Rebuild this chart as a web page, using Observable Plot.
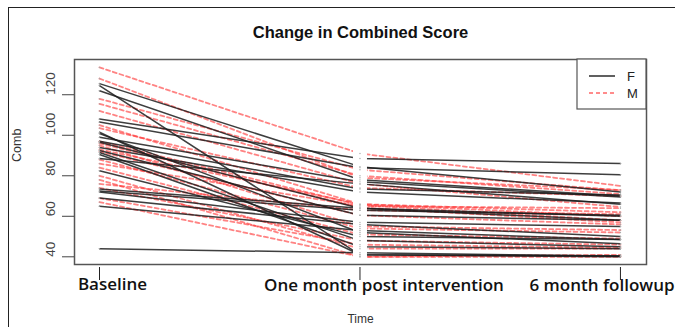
<!DOCTYPE html>
<html>
<head>
<meta charset="utf-8">
<script src="https://cdn.jsdelivr.net/npm/d3@7"></script>
<script src="https://cdn.jsdelivr.net/npm/@observablehq/plot@0.6"></script>
<style>
  html, body { margin: 0; padding: 0; background: #fff; }
  #wrap { position: relative; width: 675px; height: 327px; overflow: hidden; background: #fff; }
  #border { position: absolute; left: 8px; top: 7px; width: 700px; height: 340px; border-left: 1.5px solid #222; border-top: 1.5px solid #222; }
  #chart { position: absolute; left: 0; top: 0; }
  #legend { position: absolute; left: 0; top: 0; pointer-events: none; }
</style>
</head>
<body>
<div id="wrap">
  <div id="border"></div>
  <div id="chart"></div>
  <svg id="legend" width="675" height="327"></svg>
</div>
<script>
// ---- data ----
const timeLabels = ["Baseline", "One month post intervention", "6 month followup"];
const timeIndex = [1, 2, 3];
const yTicks = [40, 60, 80, 100, 120];
const sexLevels = ["F", "M"];

const fBase  = [125.5, 124.5, 122, 108, 106.5, 101.5, 100.8, 99, 97, 96.5, 94, 92.5, 91.5, 90.5, 88.5, 82.5, 73.5, 72.5, 72, 69, 65, 44];
const fMonth = [84.5, 41, 78, 88.5, 84, 41, 52, 77, 73.5, 64, 72, 60.5, 48, 45, 76, 50, 64, 63, 57, 56, 53, 42];
const f6     = [72, 40.5, 70, 86, 80.5, 40, 46.5, 69.5, 70.5, 60, 66.5, 58, 45, 44, 66, 48.6, 58, 60.5, 55, 50, 48.5, 40.3];

const mBase  = [133.5, 128, 118, 115.5, 112, 105, 103.5, 97, 96, 95, 93, 92, 88, 86, 84, 80, 78, 76, 74, 69, 67];
const mMonth = [91, 79, 83, 80, 76, 66, 74, 65.5, 64.3, 55, 66, 60.5, 54, 65, 51, 44, 40, 63, 48, 46, 40];
const m6     = [75, 73, 72.8, 71, 64.6, 62, 70, 58, 57, 53.2, 60, 56, 52, 64, 49, 44, 40, 61, 46, 44.5, 41];

function rows(sex, a, b, c) {
  const out = [];
  a.forEach((v, i) => {
    [a[i], b[i], c[i]].forEach((val, k) => out.push({id: sex + i, sex, t: timeIndex[k], v: val}));
  });
  return out;
}
const fRows = rows("F", fBase, fMonth, f6);
const mRows = rows("M", mBase, mMonth, m6);
const allRows = fRows.concat(mRows);

const chart = Plot.plot({
  width: 675,
  height: 327,
  marginLeft: 74,
  marginRight: 29,
  marginTop: 59,
  marginBottom: 63,
  style: {background: "transparent", fontFamily: "'Liberation Sans', Arial, sans-serif"},
  x: {domain: [0.904, 3.1], axis: null},
  y: {domain: [36.2, 137.4], axis: null},
  marks: [
    Plot.line(mRows, {x: "t", y: "v", z: "id", stroke: "#ff3030", strokeWidth: 1.8, strokeOpacity: 0.6, strokeDasharray: "4,3"}),
    Plot.line(fRows, {x: "t", y: "v", z: "id", stroke: "#1c1c1c", strokeWidth: 1.5, strokeOpacity: 0.85}),
    Plot.ruleX([2], {stroke: "white", strokeWidth: 14}),
    Plot.dot(allRows, {x: "t", y: "v", r: 0.7, fill: "#aaa", stroke: null}),
    Plot.frame({stroke: "#555", strokeWidth: 1.5}),
    Plot.axisY({ticks: yTicks, tickSize: 12, tickFormat: () => "", label: null, stroke: "#444"}),
    Plot.text(yTicks, {y: d => d, text: d => String(d), frameAnchor: "left", dx: -24, rotate: -90, fontSize: 13.5, fill: "#444"}),
    Plot.axisX({ticks: timeIndex, tickSize: 13, tickFormat: () => "", label: null, dy: 3, stroke: "#222"}),
    Plot.text([timeLabels[0]], {x: [timeIndex[0]], frameAnchor: "bottom", dy: 25, dx: 13, text: d => d, fontSize: 17, fontWeight: 600, fontFamily: "'Open Sans'", fill: "#111"}),
    Plot.text([timeLabels[1]], {x: [timeIndex[1]], frameAnchor: "bottom", dy: 26, dx: 24, text: d => d, fontSize: 17, fontWeight: 600, fontFamily: "'Open Sans'", fill: "#111"}),
    Plot.text([timeLabels[2]], {x: [timeIndex[2]], frameAnchor: "bottom", dy: 26, dx: -91, textAnchor: "start", text: d => d, fontSize: 17, fontWeight: 600, fontFamily: "'Open Sans'", fill: "#111"}),
    Plot.text(["Change in Combined Score"], {frameAnchor: "top", dy: -33, text: d => d, fontSize: 16.5, fontWeight: "bold", fill: "#111"}),
    Plot.text(["Time"], {frameAnchor: "bottom", dy: 58, text: d => d, fontSize: 12, fill: "#333"}),
    Plot.text(["Comb"], {frameAnchor: "left", dx: -58, rotate: -90, text: d => d, fontSize: 12.5, fill: "#333"})
  ]
});
document.getElementById("chart").appendChild(chart);

// legend (inside plot, top-right)
const lg = d3.select("#legend");
lg.append("rect").attr("x", 577).attr("y", 59).attr("width", 69).attr("height", 50)
  .attr("fill", "white").attr("stroke", "#555").attr("stroke-width", 1.2);
const items = [
  {label: sexLevels[0], stroke: "#1c1c1c", dash: null, width: 1.4},
  {label: sexLevels[1], stroke: "#ff6666", dash: "4,3", width: 1.6}
];
items.forEach((it, i) => {
  const y = 76 + i * 17;
  lg.append("line").attr("x1", 589).attr("x2", 615).attr("y1", y).attr("y2", y)
    .attr("stroke", it.stroke).attr("stroke-width", it.width).attr("stroke-dasharray", it.dash);
  lg.append("text").attr("x", 627).attr("y", y).attr("dy", "0.35em")
    .attr("font-family", "'Liberation Sans', Arial, sans-serif").attr("font-size", 13).attr("fill", "#222")
    .text(it.label);
});
</script>
</body>
</html>
